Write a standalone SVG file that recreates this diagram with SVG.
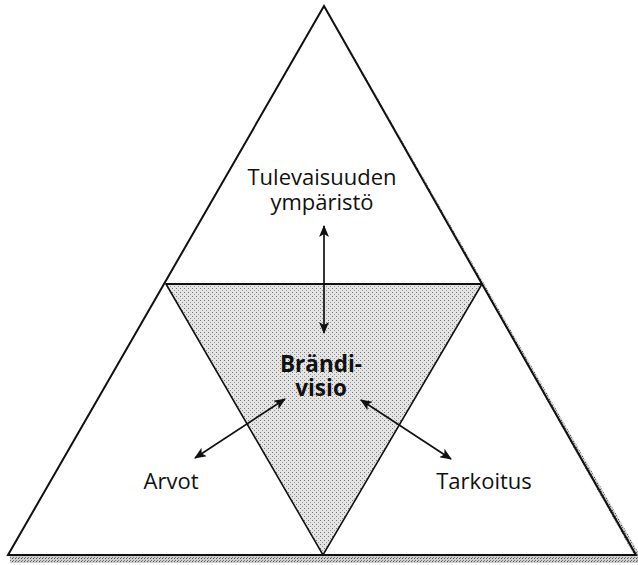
<svg xmlns="http://www.w3.org/2000/svg" width="638" height="565" viewBox="0 0 638 565">
<style>
.edge{fill:none;stroke:#111;stroke-width:2;stroke-linejoin:miter}
.lbl{font-family:"Open Sans","Liberation Sans",sans-serif;font-size:22px;fill:#111;text-anchor:middle}
.bold{font-weight:bold;font-size:22.5px}
.arr{stroke:#111;stroke-width:1.7;fill:none;marker-start:url(#ah);marker-end:url(#ah)}
</style>
<defs>
<pattern id="dots" width="4" height="4" patternUnits="userSpaceOnUse">
<rect width="4" height="4" fill="#e4e4e4"/>
<rect x="0" y="0" width="1" height="1" fill="#777"/>
<rect x="2" y="2" width="1" height="1" fill="#999"/>
</pattern>
<pattern id="shade" width="3" height="3" patternUnits="userSpaceOnUse">
<rect width="3" height="3" fill="#cfcfcf"/>
<rect x="0" y="0" width="1" height="1" fill="#555"/>
<rect x="1" y="2" width="1" height="1" fill="#777"/>
</pattern>
<marker id="ah" viewBox="0 0 12 10" refX="11" refY="5" markerWidth="12" markerHeight="10" markerUnits="userSpaceOnUse" orient="auto-start-reverse">
<path d="M0,0 L12,5 L0,10 L3,5 Z" fill="#111"/>
</marker>
</defs>
<rect width="638" height="565" fill="#fff"/>
<g id="shadow">
<polygon points="325,6 638,552 638,560 634,555" fill="url(#shade)"/>
<rect x="10" y="556" width="628" height="7" fill="url(#shade)"/>
</g>
<g id="inner-triangle">
<polygon points="166,284 482,284 323,555" fill="url(#dots)" stroke="#111" stroke-width="1.6"/>
</g>
<g id="outer-triangle">
<polygon class="edge" points="324,6 636,555 8,555"/>
<line x1="166" y1="284" x2="482" y2="284" stroke="#111" stroke-width="2"/>
</g>
<g id="connectors">
<line class="arr" x1="324" y1="226" x2="324" y2="333"/>
<line class="arr" x1="285" y1="399" x2="195" y2="458"/>
<line class="arr" x1="361" y1="400" x2="451" y2="459"/>
</g>
<g id="node-tulevaisuus">
<text class="lbl" x="322" y="185">Tulevaisuuden</text>
<text class="lbl" x="322" y="210">ympäristö</text>
</g>
<g id="node-brandivisio">
<text class="lbl bold" x="321" y="372">Brändi-</text>
<text class="lbl bold" x="321" y="396">visio</text>
</g>
<g id="node-arvot">
<text class="lbl" x="171" y="489">Arvot</text>
</g>
<g id="node-tarkoitus">
<text class="lbl" x="484" y="489">Tarkoitus</text>
</g>
</svg>
